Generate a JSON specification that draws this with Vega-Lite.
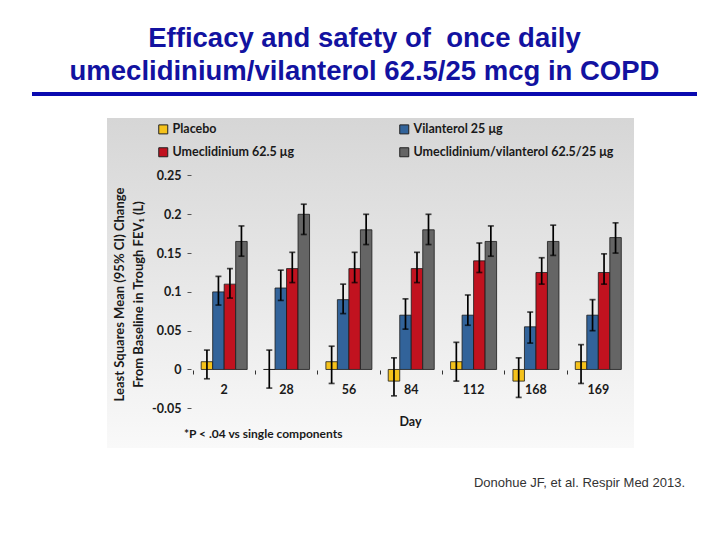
{
  "$schema": "https://vega.github.io/schema/vega-lite/v6.json",
  "padding": {"left": 30, "top": 24, "right": 10, "bottom": 10},
  "background": "white",
  "bounds": "flush",
  "center": true,
  "spacing": 20,
  "resolve": {"legend": {"color": "independent"}},
  "config": {"view": {"stroke": null}},
  "vconcat": [
    {
      "width": 677,
      "height": 8,
      "title": {
        "text": ["Efficacy and safety of\u00a0 once daily", "umeclidinium/vilanterol 62.5/25 mcg in COPD"],
        "font": "Liberation Sans",
        "fontSize": 27.5,
        "fontWeight": "bold",
        "color": "#1212a0",
        "lineHeight": 33,
        "dx": -6,
        "offset": 5,
        "anchor": "middle"
      },
      "data": {"values": [{"a": 0}]},
      "mark": {"type": "rule", "color": "#0a0ab0", "strokeWidth": 4},
      "encoding": {
        "x": {"datum": 0, "type": "quantitative", "scale": {"domain": [0, 677]}, "axis": null},
        "x2": {"datum": 665},
        "y": {"datum": 0.5, "type": "quantitative", "scale": {"domain": [0, 1]}, "axis": null}
      }
    },
    {
      "width": 527,
      "height": 330,
      "view": {
        "stroke": null,
        "fill": {
          "gradient": "linear",
          "x1": 0, "y1": 0, "x2": 0, "y2": 1,
          "stops": [
            {"offset": 0, "color": "#d6d6d6"},
            {"offset": 0.6, "color": "#ebebeb"},
            {"offset": 1, "color": "#f9f9f9"}
          ]
        }
      },
      "title": {
        "text": "Donohue JF, et al. Respir Med 2013.",
        "orient": "bottom",
        "anchor": "end",
        "dx": 51,
        "offset": 29,
        "font": "Liberation Sans",
        "fontSize": 13,
        "fontWeight": "normal",
        "color": "#333333"
      },
      "data": {
        "values": [
          {"day": "2", "series": "Placebo", "value": 0.01, "lo": -0.012, "hi": 0.025},
          {"day": "2", "series": "Vilanterol 25 μg", "value": 0.10, "lo": 0.083, "hi": 0.12},
          {"day": "2", "series": "Umeclidinium 62.5 μg", "value": 0.11, "lo": 0.092, "hi": 0.13},
          {"day": "2", "series": "Umeclidinium/vilanterol 62.5/25 μg", "value": 0.165, "lo": 0.146, "hi": 0.185},
          {"day": "28", "series": "Placebo", "value": 0.0, "lo": -0.024, "hi": 0.025},
          {"day": "28", "series": "Vilanterol 25 μg", "value": 0.105, "lo": 0.089, "hi": 0.128},
          {"day": "28", "series": "Umeclidinium 62.5 μg", "value": 0.13, "lo": 0.112, "hi": 0.151},
          {"day": "28", "series": "Umeclidinium/vilanterol 62.5/25 μg", "value": 0.2, "lo": 0.174, "hi": 0.213},
          {"day": "56", "series": "Placebo", "value": 0.01, "lo": -0.018, "hi": 0.03},
          {"day": "56", "series": "Vilanterol 25 μg", "value": 0.09, "lo": 0.072, "hi": 0.11},
          {"day": "56", "series": "Umeclidinium 62.5 μg", "value": 0.13, "lo": 0.112, "hi": 0.151},
          {"day": "56", "series": "Umeclidinium/vilanterol 62.5/25 μg", "value": 0.18, "lo": 0.161, "hi": 0.2},
          {"day": "84", "series": "Placebo", "value": -0.015, "lo": -0.034, "hi": 0.015},
          {"day": "84", "series": "Vilanterol 25 μg", "value": 0.07, "lo": 0.052, "hi": 0.091},
          {"day": "84", "series": "Umeclidinium 62.5 μg", "value": 0.13, "lo": 0.112, "hi": 0.151},
          {"day": "84", "series": "Umeclidinium/vilanterol 62.5/25 μg", "value": 0.18, "lo": 0.161, "hi": 0.2},
          {"day": "112", "series": "Placebo", "value": 0.01, "lo": -0.015, "hi": 0.035},
          {"day": "112", "series": "Vilanterol 25 μg", "value": 0.07, "lo": 0.057, "hi": 0.096},
          {"day": "112", "series": "Umeclidinium 62.5 μg", "value": 0.14, "lo": 0.125, "hi": 0.163},
          {"day": "112", "series": "Umeclidinium/vilanterol 62.5/25 μg", "value": 0.165, "lo": 0.146, "hi": 0.185},
          {"day": "168", "series": "Placebo", "value": -0.015, "lo": -0.036, "hi": 0.015},
          {"day": "168", "series": "Vilanterol 25 μg", "value": 0.055, "lo": 0.034, "hi": 0.074},
          {"day": "168", "series": "Umeclidinium 62.5 μg", "value": 0.125, "lo": 0.11, "hi": 0.144},
          {"day": "168", "series": "Umeclidinium/vilanterol 62.5/25 μg", "value": 0.165, "lo": 0.147, "hi": 0.186},
          {"day": "169", "series": "Placebo", "value": 0.01, "lo": -0.018, "hi": 0.032},
          {"day": "169", "series": "Vilanterol 25 μg", "value": 0.07, "lo": 0.05, "hi": 0.09},
          {"day": "169", "series": "Umeclidinium 62.5 μg", "value": 0.125, "lo": 0.11, "hi": 0.149},
          {"day": "169", "series": "Umeclidinium/vilanterol 62.5/25 μg", "value": 0.17, "lo": 0.15, "hi": 0.189}
        ]
      },
      "encoding": {
        "x": {
          "field": "day",
          "type": "ordinal",
          "scale": {"domain": ["2", "28", "56", "84", "112", "168", "169"], "paddingInner": 0, "paddingOuter": 0.726, "align": 0.95},
          "axis": {
            "orient": "bottom",
            "offset": -78,
            "domain": false,
            "labelAngle": 0,
            "tickSize": 4,
            "tickColor": "#333333",
            "bandPosition": 0,
            "labelPadding": 9,
            "labelFont": "Lato",
            "labelFontSize": 12.5,
            "labelFontWeight": "bold",
            "labelColor": "#1a1a1a",
            "title": "Day",
            "titleFont": "Lato",
            "titleFontSize": 12.5,
            "titleFontWeight": "bold",
            "titleColor": "#1a1a1a",
            "titleX": 303,
            "titlePadding": 20
          }
        },
        "y": {
          "type": "quantitative",
          "scale": {"domain": [-0.1012, 0.3241], "nice": false, "zero": false},
          "axis": {
            "orient": "left",
            "offset": -84,
            "domain": false,
            "grid": false,
            "values": [-0.05, 0, 0.05, 0.1, 0.15, 0.2, 0.25],
            "labelExpr": "'' + datum.value",
            "tickSize": 4,
            "tickColor": "#555555",
            "labelPadding": 6,
            "labelFont": "Lato",
            "labelFontSize": 12.5,
            "labelFontWeight": "bold",
            "labelColor": "#1a1a1a",
            "title": ["Least Squares Mean (95% CI) Change", "From Baseline in Trough FEV₁ (L)"],
            "titleFont": "Lato",
            "titleFontSize": 13,
            "titleFontWeight": "bold",
            "titleColor": "#1a1a1a",
            "titleLineHeight": 19,
            "titlePadding": 6,
            "titleY": 176
          }
        }
      },
      "layer": [
        {
          "mark": {"type": "bar", "stroke": "#1a1a1a", "strokeWidth": 0.8},
          "encoding": {
            "xOffset": {
              "field": "series",
              "type": "nominal",
              "scale": {"domain": ["Placebo", "Vilanterol 25 μg", "Umeclidinium 62.5 μg", "Umeclidinium/vilanterol 62.5/25 μg"], "paddingInner": 0, "paddingOuter": 0.71}
            },
            "y": {"field": "value"},
            "y2": {"datum": 0},
            "color": {
              "field": "series",
              "type": "nominal",
              "scale": {
                "domain": ["Placebo", "Vilanterol 25 μg", "Umeclidinium 62.5 μg", "Umeclidinium/vilanterol 62.5/25 μg"],
                "range": ["#f5c21b", "#32639a", "#c1121f", "#656565"]
              },
              "legend": {
                "title": null,
                "orient": "none",
                "direction": "horizontal",
                "legendX": 50,
                "legendY": 5,
                "columns": 2,
                "columnPadding": 103,
                "rowPadding": 9,
                "symbolType": "square",
                "symbolSize": 81,
                "symbolStrokeColor": "#222222",
                "symbolStrokeWidth": 1,
                "labelFont": "Lato",
                "labelFontSize": 12.5,
                "labelFontWeight": "bold",
                "labelColor": "#1a1a1a",
                "labelOffset": 3,
                "labelLimit": 300
              }
            }
          }
        },
        {
          "mark": {"type": "rule", "color": "#000000", "strokeWidth": 1.7},
          "encoding": {
            "xOffset": {"field": "series", "type": "nominal"},
            "y": {"field": "lo"},
            "y2": {"field": "hi"}
          }
        },
        {
          "mark": {"type": "tick", "color": "#000000", "thickness": 1.7, "size": 6},
          "encoding": {
            "xOffset": {"field": "series", "type": "nominal"},
            "y": {"field": "hi"}
          }
        },
        {
          "mark": {"type": "tick", "color": "#000000", "thickness": 1.7, "size": 6},
          "encoding": {
            "xOffset": {"field": "series", "type": "nominal"},
            "y": {"field": "lo"}
          }
        },
        {
          "data": {"values": [{"note": "*P < .04 vs single components"}]},
          "mark": {"type": "text", "align": "left", "baseline": "middle", "dx": -9, "font": "Lato", "fontSize": 12, "fontWeight": "bold", "color": "#1a1a1a"},
          "encoding": {
            "x": {"datum": "2", "type": "ordinal", "bandPosition": 0},
            "y": {"datum": -0.083, "type": "quantitative"},
            "text": {"field": "note"}
          }
        }
      ]
    }
  ]
}
